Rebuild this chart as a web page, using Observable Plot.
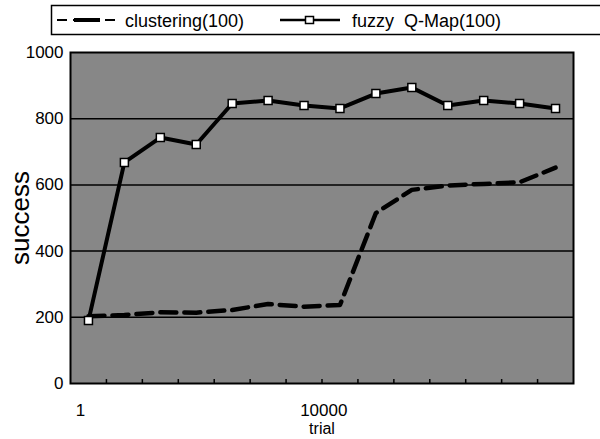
<!DOCTYPE html>
<html>
<head>
<meta charset="utf-8">
<script src="https://cdn.jsdelivr.net/npm/d3@7"></script>
<script src="https://cdn.jsdelivr.net/npm/@observablehq/plot@0.6"></script>
<style>
  html, body { margin: 0; padding: 0; background: #fff; overflow: hidden; width: 600px; height: 439px; }
  body { font-family: "Liberation Sans Narrow", "Arial Narrow", "Liberation Sans", sans-serif; }
  #legend { position: relative; width: 600px; height: 37px; }
  #chart svg { display: block; }
</style>
</head>
<body>
<div id="legend"></div>
<div id="chart"></div>
<script>
// ---- data ----
const trialIndex = [1, 2, 3, 4, 5, 6, 7, 8, 9, 10, 11, 12, 13, 14];
const clustering = [203, 207, 215, 214, 222, 240, 232, 237, 515, 585, 598, 603, 608, 652];
const fuzzyQMap  = [190, 668, 743, 722, 846, 855, 840, 831, 876, 894, 840, 855, 846, 831];
const yTicks = [0, 200, 400, 600, 800, 1000];
const gridValues = [200, 400, 600, 800];
const xTickLabels = ["1", "10000"];
const xTickPos = [0.78, 7.55];
const categoryBounds = [1.5, 2.5, 3.5, 4.5, 5.5, 6.5, 7.5, 8.5, 9.5, 10.5, 11.5, 12.5, 13.5];
const seriesNames = ["clustering(100)", "fuzzy  Q-Map(100)"];

const fontFam = '"Liberation Sans Narrow", "Arial Narrow", "Liberation Sans", sans-serif';

const clusterData = trialIndex.map((t, i) => ({t, v: clustering[i]}));
const fuzzyData = trialIndex.map((t, i) => ({t, v: fuzzyQMap[i]}));
const xTickData = xTickLabels.map((l, i) => ({label: l, x: xTickPos[i]}));

// ---- legend ----
const ns = "http://www.w3.org/2000/svg";
const lg = document.createElementNS(ns, "svg");
lg.setAttribute("width", 600); lg.setAttribute("height", 37);
lg.innerHTML = `
  <rect x="51.5" y="5.5" width="600" height="29" fill="white" stroke="black" stroke-width="1.5"/>
  <line x1="57" y1="20" x2="118" y2="20" stroke="black" stroke-width="2" stroke-dasharray="10,6"/>
  <line x1="74" y1="20" x2="100" y2="20" stroke="black" stroke-width="4"/>
  <text x="125" y="27" font-size="18" font-family='${fontFam}'>${seriesNames[0]}</text>
  <line x1="280" y1="20" x2="340" y2="20" stroke="black" stroke-width="2.5"/>
  <rect x="305.5" y="16.5" width="8" height="7" fill="white" stroke="black" stroke-width="1.5"/>
  <text x="352" y="27" font-size="18" font-family='${fontFam}' xml:space="preserve">${seriesNames[1]}</text>
`;
document.getElementById("legend").appendChild(lg);

// ---- chart ----
const chart = Plot.plot({
  width: 600,
  height: 402,
  marginLeft: 70,
  marginRight: 27,
  marginTop: 15,
  marginBottom: 56,
  style: {fontFamily: fontFam, background: "white", color: "black"},
  x: {domain: [0.5, 14.5], axis: null},
  y: {domain: [0, 1000], axis: null},
  marks: [
    Plot.frame({fill: "#878787"}),
    Plot.ruleY(gridValues, {stroke: "black", strokeWidth: 1.5}),
    Plot.ruleX(categoryBounds, {y1: 0, y2: 12, stroke: "black", strokeWidth: 1.5}),
    Plot.line(clusterData, {x: "t", y: "v", stroke: "black", strokeWidth: 4.5, strokeDasharray: "16,8"}),
    Plot.line(fuzzyData, {x: "t", y: "v", stroke: "black", strokeWidth: 4}),
    Plot.dot(fuzzyData, {x: "t", y: "v", symbol: "square", r: 4.5, fill: "white", stroke: "black", strokeWidth: 1.5}),
    Plot.frame({stroke: "black", strokeWidth: 2}),
    Plot.text(yTicks, {x: 0.5, y: d => d, text: d => String(d), textAnchor: "end", dx: -7, fontSize: 17}),
    Plot.text(xTickData, {x: "x", y: 0, text: "label", dy: 27, fontSize: 17}),
    Plot.text(["trial"], {frameAnchor: "bottom", lineAnchor: "middle", dy: 45, fontSize: 16}),
    Plot.text(["success"], {frameAnchor: "left", textAnchor: "middle", rotate: -90, dx: -50, fontSize: 26})
  ]
});
document.getElementById("chart").appendChild(chart);
</script>
</body>
</html>
